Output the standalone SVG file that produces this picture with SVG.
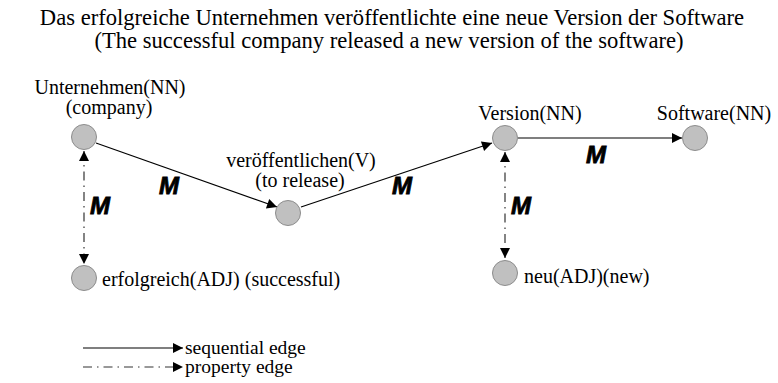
<svg xmlns="http://www.w3.org/2000/svg" width="778" height="383" viewBox="0 0 778 383">
<defs>
<style>
.t{font-family:"Liberation Serif","Times New Roman",serif;font-size:20px;fill:#000}
.lg{font-family:"Liberation Serif","Times New Roman",serif;font-size:19.5px;fill:#000}
.title{font-family:"Liberation Serif","Times New Roman",serif;font-size:22.6px;fill:#000;text-anchor:middle}
.m{font-family:"Liberation Sans",Arial,sans-serif;font-size:24px;font-weight:bold;font-style:italic;fill:#000;stroke:#000;stroke-width:0.8}
.n{fill:#c0c0c0;stroke:#8c8c8c;stroke-width:1}
.seq{stroke:#000;stroke-width:1.2;fill:none}
.prop{stroke:#333;stroke-width:1.2;fill:none;stroke-dasharray:9,5,1.5,5}
</style>
<marker id="ah" viewBox="0 0 10 10" refX="10" refY="5" markerWidth="18" markerHeight="10" markerUnits="userSpaceOnUse" orient="auto-start-reverse">
<path d="M0,0 L10,5 L0,10 z" fill="#000"/>
</marker>
</defs>
<rect width="778" height="383" fill="#fff"/>
<text class="title" x="392" y="25">Das erfolgreiche Unternehmen veröffentlichte eine neue Version der Software</text>
<text class="title" x="389" y="48">(The successful company released a new version of the software)</text>

<g id="connectors">
<line class="seq" x1="96" y1="143" x2="277" y2="207" marker-end="url(#ah)"/>
<line class="seq" x1="301" y1="207" x2="492" y2="143" marker-end="url(#ah)"/>
<line class="seq" x1="518" y1="138" x2="682" y2="138" marker-end="url(#ah)"/>
<line class="prop" x1="84" y1="151" x2="84" y2="264" marker-start="url(#ah)" marker-end="url(#ah)"/>
<line class="prop" x1="505" y1="152" x2="505" y2="258" marker-start="url(#ah)" marker-end="url(#ah)"/>
<text class="m" x="159" y="194">M</text>
<text class="m" x="392" y="194">M</text>
<text class="m" x="586" y="163">M</text>
<text class="m" x="90" y="214">M</text>
<text class="m" x="511" y="214">M</text>
</g>

<g id="n-unternehmen">
<circle class="n" cx="84" cy="137" r="12.5"/>
<text class="t" x="110" y="94" text-anchor="middle">Unternehmen(NN)</text>
<text class="t" x="109" y="114" text-anchor="middle">(company)</text>
</g>
<g id="n-erfolgreich">
<circle class="n" cx="84" cy="278" r="12.5"/>
<text class="t" x="102" y="286">erfolgreich(ADJ) (successful)</text>
</g>
<g id="n-veroeffentlichen">
<circle class="n" cx="288" cy="213" r="12.5"/>
<text class="t" x="301" y="167" text-anchor="middle">veröffentlichen(V)</text>
<text class="t" x="300" y="187" text-anchor="middle">(to release)</text>
</g>
<g id="n-version">
<circle class="n" cx="505" cy="138" r="12.5"/>
<text class="t" x="530" y="120" text-anchor="middle">Version(NN)</text>
</g>
<g id="n-software">
<circle class="n" cx="695" cy="138" r="12.5"/>
<text class="t" x="714" y="120" text-anchor="middle">Software(NN)</text>
</g>
<g id="n-neu">
<circle class="n" cx="505" cy="273" r="12.5"/>
<text class="t" x="524" y="283">neu(ADJ)(new)</text>
</g>

<g id="legend">
<line class="seq" x1="83" y1="348" x2="183" y2="348" marker-end="url(#ah)"/>
<text class="lg" x="185" y="354">sequential edge</text>
<line class="prop" x1="83" y1="367" x2="183" y2="367" marker-end="url(#ah)"/>
<text class="lg" x="185" y="373">property edge</text>
</g>
</svg>
